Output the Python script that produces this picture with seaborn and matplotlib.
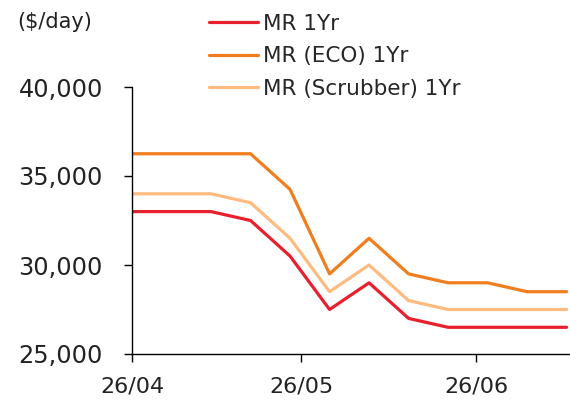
import numpy as np
import pandas as pd
import seaborn as sns
import matplotlib.pyplot as plt
import matplotlib.dates as mdates

# weekly assessments, $/day
dates = pd.date_range('2024-04-26', periods=12, freq='7D')
mr_1yr = [33000, 33000, 33000, 32500, 30500, 27500, 29000, 27000, 26500, 26500, 26500, 26500]
mr_eco_1yr = [36250, 36250, 36250, 36250, 34250, 29500, 31500, 29500, 29000, 29000, 28500, 28500]
mr_scrub_1yr = [34000, 34000, 34000, 33500, 31500, 28500, 30000, 28000, 27500, 27500, 27500, 27500]
series = ['MR 1Yr', 'MR (ECO) 1Yr', 'MR (Scrubber) 1Yr']
tick_dates = pd.to_datetime(['2024-04-26', '2024-05-26', '2024-06-26'])
y_ticks = [25000, 30000, 35000, 40000]

df = pd.DataFrame({'date': list(dates) * 3,
                   'rate': mr_1yr + mr_eco_1yr + mr_scrub_1yr,
                   'series': np.repeat(series, len(dates))})

sns.set_style('white')
plt.rcParams['font.family'] = ['DejaVu Sans']
colors = ['#E8202E', '#F07D1E', '#FDBB80']

fig = plt.figure(figsize=(5.7, 4), dpi=100)
ax = fig.add_axes([132/570, 1 - 354/400, (570-132)/570, (354-87)/400])
sns.lineplot(data=df, x='date', y='rate', hue='series', palette=colors,
             linewidth=2.3, ax=ax)

ax.set_xlim(dates[0], dates[-1] + pd.Timedelta(days=0.6))
ax.set_ylim(25000, 40000)
ax.set_yticks(y_ticks)
ax.yaxis.set_major_formatter(plt.FuncFormatter(lambda v, p: f'{v:,.0f}'))
ax.set_xticks(tick_dates)
ax.xaxis.set_major_formatter(mdates.DateFormatter('%d/%m'))
ax.set_xlabel('')
ax.set_ylabel('')
for s in ['top', 'right']:
    ax.spines[s].set_visible(False)
for s in ['left', 'bottom']:
    ax.spines[s].set_color('black')
    ax.spines[s].set_linewidth(1.0)
ax.tick_params(axis='both', direction='out', length=6, width=1, color='black',
               labelcolor='#222222', bottom=True, left=True)
ax.tick_params(axis='y', labelsize=17.3, pad=15)
ax.tick_params(axis='x', labelsize=16, pad=10)

ax.legend(loc='upper left', bbox_to_anchor=(196/570, 1 - 1/400), bbox_transform=fig.transFigure,
          frameon=False, fontsize=15.5, handlelength=2.3, handletextpad=0.2,
          labelspacing=0.58, borderaxespad=0.2)
fig.text(17/570, 1 - 22/400, '($/day)', fontsize=15, color='#222222', va='center')

plt.savefig('out.png', dpi=100)
